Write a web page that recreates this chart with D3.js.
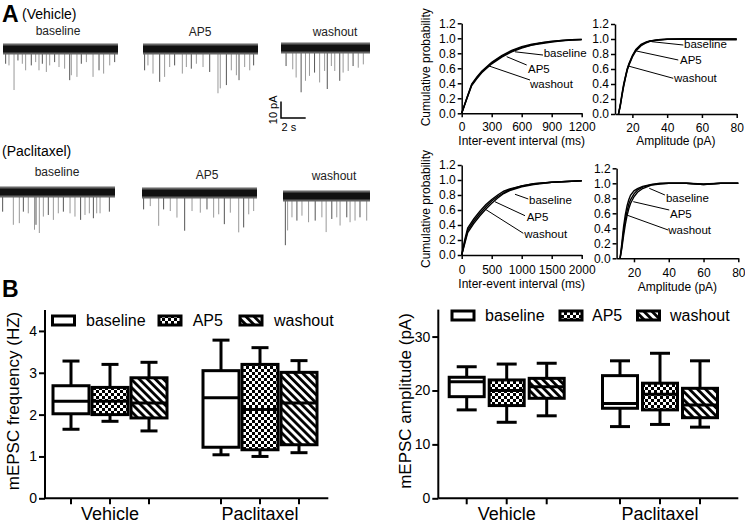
<!DOCTYPE html>
<html><head><meta charset="utf-8">
<script src="https://cdn.jsdelivr.net/npm/d3@7"></script>
<style>body{margin:0;background:#fff} svg{display:block;font-family:Arial,"Liberation Sans",Helvetica,sans-serif}</style>
</head><body><svg id="c" width="745" height="523"></svg>
<script>
// ---------------- DATA ----------------
const seriesNames = ["baseline", "AP5", "washout"];
const groups = ["Vehicle", "Paclitaxel"];

// Trace events: [fraction of trace length, amplitude (pA)]
const vehBaselineSpikes = [[.023,9],[.052,10],[.096,25],[.13,7],[.168,9],[.197,13],[.246,10],[.284,8],[.313,13],[.342,9],[.377,14],[.406,10],[.449,8],[.487,11],[.536,12],[.58,19],[.594,16],[.643,17],[.681,9],[.725,8],[.783,17],[.835,13],[.875,15],[.928,10],[.971,8]];
const vehAP5Spikes = [[.014,13],[.043,10],[.087,15],[.145,20],[.188,17],[.232,11],[.275,10],[.342,15],[.377,11],[.42,12],[.464,9],[.522,11],[.58,14],[.652,27],[.672,24],[.725,22],[.768,13],[.812,16],[.835,19],[.884,11],[.928,13],[.962,10]];
const vehWashSpikes = [[.057,11],[.132,13],[.17,18],[.226,27],[.275,20],[.32,17],[.377,15],[.434,21],[.49,14],[.52,25],[.566,11],[.604,14],[.66,20],[.698,15],[.755,14],[.81,11],[.868,12],[.925,10]];
const pacBaselineSpikes = [[.023,12],[.116,20],[.168,19],[.203,12],[.246,13],[.3,23],[.313,20],[.342,25],[.377,15],[.42,14],[.464,17],[.507,13],[.551,12],[.609,13],[.652,15],[.701,17],[.739,14],[.777,13],[.812,16],[.841,13],[.87,13],[.951,12]];
const pacAP5Spikes = [[.014,10],[.072,8],[.145,20],[.188,10],[.246,11],[.304,15],[.371,23],[.435,11],[.507,12],[.565,10],[.623,15],[.667,13],[.716,19],[.768,12],[.841,24],[.884,21],[.928,13],[.971,11]];
const pacWashSpikes = [[.027,30],[.053,21],[.103,13],[.16,15],[.218,12],[.294,16],[.37,15],[.447,13],[.496,22],[.561,14],[.618,13],[.656,18],[.733,13],[.771,16],[.828,15],[.885,13],[.962,15]];

// Cumulative distributions
const vehIntX   = [0,50,100,150,200,300,400,500,600,700,800,900,1000,1100,1200];
const vehIntBase= [0,.2,.39,.48,.56,.68,.77,.84,.89,.92,.94,.96,.97,.98,.985];
const vehIntAP5 = [0,.19,.38,.47,.55,.67,.76,.83,.88,.91,.94,.955,.97,.98,.985];
const vehIntWash= [0,.19,.37,.46,.54,.66,.75,.82,.87,.91,.93,.95,.965,.975,.98];

const vehAmpX   = [12,13,14,15,16,17,18,20,22,25,28,30,35,40,50,60,70,80];
const vehAmpBase= [0,.12,.27,.4,.5,.6,.67,.78,.86,.93,.96,.975,.99,.995,1,1,1,1];
const vehAmpAP5 = [0,.1,.24,.37,.48,.58,.65,.76,.84,.91,.95,.97,.985,.995,1,1,1,1];
const vehAmpWash= [0,.11,.25,.38,.49,.59,.66,.77,.85,.92,.955,.97,.99,1,1,.995,.99,.99];

const pacIntX   = [0,50,100,200,300,400,500,600,700,800,1000,1200,1500,2000];
const pacIntBase= [0,.2,.36,.48,.58,.67,.74,.8,.85,.88,.92,.95,.97,.99];
const pacIntAP5 = [0,.17,.33,.45,.55,.64,.72,.78,.83,.87,.92,.95,.97,.99];
const pacIntWash= [0,.15,.3,.42,.52,.61,.69,.76,.82,.86,.91,.94,.97,.99];

const pacAmpX   = [12,13,14,15,16,17,18,20,22,25,30,35,40,50,60,70,80];
const pacAmpBase= [0,.2,.42,.58,.7,.78,.84,.9,.93,.96,.985,1,1,1,.99,1,1];
const pacAmpAP5 = [0,.16,.36,.52,.63,.72,.78,.86,.91,.95,.98,.995,1,1,.985,1,1];
const pacAmpWash= [0,.13,.3,.45,.57,.66,.73,.82,.88,.93,.975,.99,1,1,.985,1,1];

// CDF annotations: tip on curve, line end, text anchor (data units)
const vehIntAnn = [{tip:[533,.82],end:[813,.777],text:[820,.75]},{tip:[450,.755],end:[650,.644],text:[663,.537]},{tip:[273,.631],end:[683,.444],text:[683,.337]}];
const vehAmpAnn = [{tip:[31.1,.964],end:[49.3,.92],text:[49.7,.884]},{tip:[21.5,.844],end:[46.4,.72],text:[47.4,.673]},{tip:[17.6,.64],end:[43.5,.476],text:[43.9,.425]}];
const pacIntAnn = [{tip:[888,.81],end:[1110,.747],text:[1122,.676]},{tip:[555,.71],end:[1055,.524],text:[1083,.453]},{tip:[388,.613],end:[1027,.289],text:[1043,.223]}];
const pacAmpAnn = [{tip:[28.8,.933],end:[37.8,.844],text:[38.4,.755]},{tip:[19.6,.755],end:[40.3,.644],text:[40.7,.533]},{tip:[15.8,.577],end:[39.7,.377],text:[39.7,.32]}];

const cdfYTicks = [0,.2,.4,.6,.8,1,1.2];
const vehIntTicks = [0,300,600,900,1200];
const pacIntTicks = [0,500,1000,1500,2000];
const ampTicks = [20,40,60,80];

// Box plots: [min, q1, median, q3, max]
const freqVehicle = [[1.65,2.02,2.32,2.69,3.28],[1.84,2.0,2.32,2.65,3.2],[1.61,1.92,2.28,2.88,3.25]];
const freqPaclitaxel = [[1.04,1.22,2.4,3.05,3.78],[1.0,1.16,2.12,3.2,3.6],[1.09,1.28,2.28,3.01,3.29]];
const ampVehicle = [[16.4,18.85,21.6,22.45,24.4],[14.1,17.2,20.0,21.95,24.9],[15.3,18.55,20.7,22.25,25.05]];
const ampPaclitaxel = [[13.3,16.7,17.6,22.75,25.5],[13.7,16.4,19.3,21.35,26.9],[13.2,14.95,17.3,20.4,25.5]];
const freqTicks = [0,1,2,3,4];
const ampBoxTicks = [0,10,20,30];

// ---------------- DRAW ----------------
const svg = d3.select("#c");
const FONT = 'Arial,"Liberation Sans",Helvetica,sans-serif';

// patterns
const defs = svg.append("defs");
const chk = defs.append("pattern").attr("id","checker").attr("patternUnits","userSpaceOnUse").attr("width",6).attr("height",6);
chk.append("rect").attr("width",6).attr("height",6).attr("fill","#fff");
chk.append("rect").attr("width",3).attr("height",3).attr("fill","#000");
chk.append("rect").attr("x",3).attr("y",3).attr("width",3).attr("height",3).attr("fill","#000");
const str = defs.append("pattern").attr("id","stripes").attr("patternUnits","userSpaceOnUse").attr("width",5.7).attr("height",10).attr("patternTransform","rotate(-45)");
str.append("rect").attr("width",5.7).attr("height",10).attr("fill","#fff");
str.append("rect").attr("width",2.8).attr("height",10).attr("fill","#000");
const fills = ["#fff","url(#checker)","url(#stripes)"];

// panel letters and titles
svg.append("text").attr("x",2).attr("y",22).attr("font-size",23).attr("font-weight","bold").text("A");
svg.append("text").attr("x",22).attr("y",19).attr("font-size",14).text("(Vehicle)");
svg.append("text").attr("x",2).attr("y",156).attr("font-size",14).text("(Paclitaxel)");
svg.append("text").attr("x",2).attr("y",297).attr("font-size",23).attr("font-weight","bold").text("B");

// ---- traces ----
const pxPerPA = 16.4/10;
const traces = [
  {spikes:vehBaselineSpikes, x0:3,   x1:118, y:49,  label:seriesNames[0], ly:35},
  {spikes:vehAP5Spikes,      x0:143, x1:258, y:49,  label:seriesNames[1], ly:36},
  {spikes:vehWashSpikes,     x0:281, x1:370, y:48,  label:seriesNames[2], ly:36},
  {spikes:pacBaselineSpikes, x0:0,   x1:115, y:192, label:seriesNames[0], ly:176},
  {spikes:pacAP5Spikes,      x0:142, x1:257, y:193, label:seriesNames[1], ly:179},
  {spikes:pacWashSpikes,     x0:283, x1:370, y:196, label:seriesNames[2], ly:180}
];
const labelCenters = [58,200,335,57,207,334];
traces.forEach((t,i)=>{
  const xs = d3.scaleLinear().domain([0,1]).range([t.x0,t.x1]);
  const ys = d3.scaleLinear().domain([0,10]).range([t.y, t.y+10*pxPerPA]);
  const g = svg.append("g");
  g.selectAll("line.sp").data(t.spikes).join("line")
    .attr("x1",d=>xs(d[0])).attr("x2",d=>xs(d[0]))
    .attr("y1",ys(0)).attr("y2",d=>ys(d[1]))
    .attr("stroke",(d,j)=>j%3===0?"#555":"#999").attr("stroke-width",1);
  const band = d3.line().x(d=>xs(d)).y(()=>ys(0));
  g.append("path").attr("d",band([0,1])).attr("stroke","#666").attr("stroke-width",11).attr("fill","none");
  g.append("path").attr("d",band([0,1])).attr("stroke","#111").attr("stroke-width",7).attr("fill","none");
  svg.append("text").attr("x",labelCenters[i]).attr("y",t.ly).attr("text-anchor","middle").attr("font-size",12).attr("fill","#222").text(t.label);
});
// scale bar
{
  const sx = d3.scaleLinear().domain([0,2]).range([281,305.7]);
  const sy = d3.scaleLinear().domain([0,10]).range([118,118-10*pxPerPA]);
  svg.append("path").attr("d",`M${sx(0)},${sy(10)}V${sy(0)}H${sx(2)}`).attr("fill","none").attr("stroke","#000").attr("stroke-width",1.5);
  svg.append("text").attr("transform",`translate(277,${(sy(0)+sy(10))/2}) rotate(-90)`).attr("text-anchor","middle").attr("font-size",11).text("10 pA");
  svg.append("text").attr("x",281.5).attr("y",131).attr("font-size",11).text("2 s");
}

// ---- CDF panels ----
const cdfPanels = [
  {x0:461.7,x1:581.7,yb:113.3,xdom:[0,1200],xticks:vehIntTicks,xs:vehIntX,ser:[vehIntBase,vehIntAP5,vehIntWash],ann:vehIntAnn,xlabel:"Inter-event interval (ms)",ylab:true,tb:131.5,lb:144.5},
  {x0:615,x1:736.7,yb:114,xdom:[10,80],xticks:ampTicks,xs:vehAmpX,ser:[vehAmpBase,vehAmpAP5,vehAmpWash],ann:vehAmpAnn,xlabel:"Amplitude (pA)",ylab:false,tb:131.7,lb:144.5},
  {x0:461.7,x1:581.7,yb:255,xdom:[0,2000],xticks:pacIntTicks,xs:pacIntX,ser:[pacIntBase,pacIntAP5,pacIntWash],ann:pacIntAnn,xlabel:"Inter-event interval (ms)",ylab:true,tb:274,lb:288},
  {x0:616.6,x1:738.3,yb:258.3,xdom:[10,80],xticks:ampTicks,xs:pacAmpX,ser:[pacAmpBase,pacAmpAP5,pacAmpWash],ann:pacAmpAnn,xlabel:"Amplitude (pA)",ylab:false,tb:276.7,lb:291}
];
cdfPanels.forEach(p=>{
  const x = d3.scaleLinear().domain(p.xdom).range([p.x0,p.x1]);
  const y = d3.scaleLinear().domain([0,1.2]).range([p.yb,p.yb-90]);
  const fs = 12;
  const xa = svg.append("g").attr("transform",`translate(0,${p.yb})`)
    .call(d3.axisBottom(x).tickValues(p.xticks).tickFormat(d3.format("d")).tickSize(4).tickSizeOuter(0).tickPadding(p.tb-p.yb-4-0.71*fs));
  const ya = svg.append("g").attr("transform",`translate(${p.x0},0)`)
    .call(d3.axisLeft(y).tickValues(cdfYTicks).tickFormat(d3.format(".1f")).tickSize(4).tickSizeOuter(0).tickPadding(2));
  [xa,ya].forEach(a=>{a.selectAll("path,line").attr("stroke","#000").attr("stroke-width",1.5);
    a.selectAll("text").attr("font-size",fs).attr("font-family",FONT).attr("fill","#000");});
  const line = d3.line().x(d=>x(d[0])).y(d=>y(d[1]));
  p.ser.forEach(s=>{
    svg.append("path").attr("d",line(p.xs.map((v,i)=>[v,s[i]]))).attr("fill","none").attr("stroke","#000").attr("stroke-width",1.4);
  });
  p.ann.forEach((a,i)=>{
    svg.append("line").attr("x1",x(a.tip[0])).attr("y1",y(a.tip[1])).attr("x2",x(a.end[0])).attr("y2",y(a.end[1])).attr("stroke","#000").attr("stroke-width",1);
    svg.append("text").attr("x",x(a.text[0])).attr("y",y(a.text[1])).attr("font-size",11.5).text(seriesNames[i]);
  });
  svg.append("text").attr("x",(p.x0+p.x1)/2).attr("y",p.lb).attr("text-anchor","middle").attr("font-size",12).text(p.xlabel);
  if(p.ylab) svg.append("text").attr("transform",`translate(430,${p.yb-46}) rotate(-90)`).attr("text-anchor","middle").attr("font-size",12).text("Cumulative probability");
});

// ---- Box plots ----
function boxPlot(cfg){
  const y = d3.scaleLinear().domain(cfg.ydom).range([cfg.yb,cfg.yt]);
  const xg = d3.scalePoint().domain(groups).range(cfg.gc);
  const xs = d3.scalePoint().domain(seriesNames).range([-cfg.off,cfg.off]);
  const ya = svg.append("g").attr("transform",`translate(${cfg.x0},0)`)
    .call(d3.axisLeft(y).tickValues(cfg.ticks).tickFormat(d3.format("d")).tickSize(6).tickSizeOuter(0).tickPadding(2));
  ya.selectAll("path,line").attr("stroke","#000").attr("stroke-width",2);
  ya.selectAll("text").attr("font-size",14).attr("font-family",FONT).attr("fill","#000");
  ya.select("path.domain").attr("d",`M0,${cfg.yb}V${cfg.yt}`);
  // x axis
  svg.append("line").attr("x1",cfg.x0).attr("x2",cfg.x1).attr("y1",cfg.yb).attr("y2",cfg.yb).attr("stroke","#000").attr("stroke-width",2);
  groups.forEach((g,gi)=>{
    seriesNames.forEach((s,si)=>{
      const cx = xg(g)+xs(s);
      svg.append("line").attr("x1",cx).attr("x2",cx).attr("y1",cfg.yb).attr("y2",cfg.yb+6).attr("stroke","#000").attr("stroke-width",2);
      const d = cfg.data[gi][si];
      const gEl = svg.append("g").attr("stroke","#000").attr("stroke-width",3);
      gEl.append("line").attr("x1",cx).attr("x2",cx).attr("y1",y(d[0])).attr("y2",y(d[4]));
      gEl.append("line").attr("x1",cx-cfg.cap/2).attr("x2",cx+cfg.cap/2).attr("y1",y(d[0])).attr("y2",y(d[0]));
      gEl.append("line").attr("x1",cx-cfg.cap/2).attr("x2",cx+cfg.cap/2).attr("y1",y(d[4])).attr("y2",y(d[4]));
      gEl.append("rect").attr("x",cx-cfg.bw/2).attr("width",cfg.bw).attr("y",y(d[3])).attr("height",y(d[1])-y(d[3])).attr("fill",fills[si]);
      gEl.append("line").attr("x1",cx-cfg.bw/2).attr("x2",cx+cfg.bw/2).attr("y1",y(d[2])).attr("y2",y(d[2]));
    });
    svg.append("text").attr("x",xg(g)).attr("y",cfg.yb+22).attr("text-anchor","middle").attr("font-size",18).text(g);
  });
  // legend
  seriesNames.forEach((s,si)=>{
    svg.append("rect").attr("x",cfg.legIcon[si]).attr("y",cfg.legY-10).attr("width",22).attr("height",9).attr("fill",fills[si]).attr("stroke","#000").attr("stroke-width",3);
    svg.append("text").attr("x",cfg.legText[si]).attr("y",cfg.legY).attr("font-size",16).text(s);
  });
  svg.append("text").attr("transform",`translate(${cfg.labX},${cfg.labY}) rotate(-90)`).attr("text-anchor","middle").attr("font-size",17).text(cfg.ylabel);
}
boxPlot({ydom:[0,4.5],yb:498.3,yt:310,x0:45,x1:328.3,gc:[110,260],off:39,bw:36,cap:17,ticks:freqTicks,
  data:[freqVehicle,freqPaclitaxel],legIcon:[52.5,159,240],legText:[86,192.7,274],legY:326,labX:19,labY:401,ylabel:"mEPSC frequency (HZ)"});
boxPlot({ydom:[0,35],yb:498.3,yt:309.6,x0:438.3,x1:738.3,gc:[506.7,660],off:40,bw:35,cap:20,ticks:ampBoxTicks,
  data:[ampVehicle,ampPaclitaxel],legIcon:[452,560,637.5],legText:[485,592,670],legY:321,labX:411,labY:401,ylabel:"mEPSC amplitude (pA)"});
</script></body></html>
